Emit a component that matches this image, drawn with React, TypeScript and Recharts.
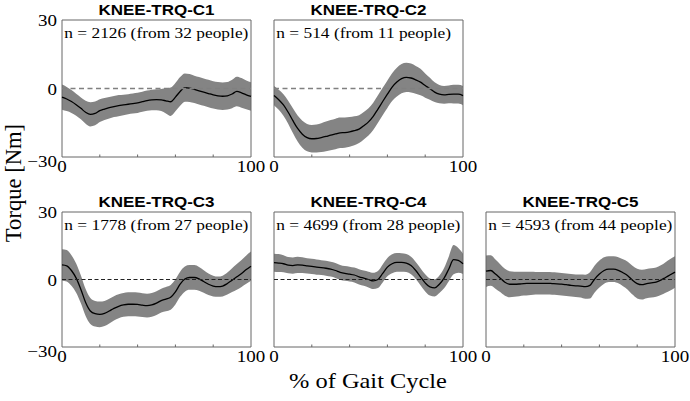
import React from 'react';
import { ComposedChart, Area, Line, XAxis, YAxis, ReferenceLine, ReferenceArea } from 'recharts';

const gaitPct = [0, 2.5, 5, 7.5, 10, 12.5, 15, 17.5, 20, 22.5, 25, 27.5, 30, 32.5, 35, 37.5, 40, 42.5, 45, 47.5, 50, 52.5, 55, 57.5, 60, 62.5, 65, 67.5, 70, 72.5, 75, 77.5, 80, 82.5, 85, 87.5, 90, 92.5, 95, 97.5, 100];

const c1Mean = [-3.8, -4.6, -5.7, -7.1, -8.7, -10.4, -11.3, -10.9, -9.7, -9.0, -8.4, -7.9, -7.5, -7.2, -6.9, -6.6, -6.3, -5.8, -5.3, -5.0, -4.9, -5.0, -5.4, -5.8, -3.8, -1.3, 0.4, 0.2, -0.4, -1.0, -1.6, -2.2, -2.8, -3.2, -3.4, -3.2, -2.4, -1.3, -1.9, -2.8, -3.5];
const c1Sd = [5.5, 5.3, 5.0, 4.8, 4.8, 5.0, 5.3, 5.2, 5.0, 4.8, 4.7, 4.6, 4.6, 4.5, 4.4, 4.4, 4.4, 4.4, 4.4, 4.5, 4.6, 4.8, 5.5, 6.2, 6.2, 6.3, 6.2, 6.1, 6.0, 6.0, 6.0, 6.0, 6.0, 6.0, 6.0, 6.0, 6.2, 6.5, 6.5, 6.3, 6.2];

const c2Mean = [-3.1, -4.9, -7.2, -10.4, -14.1, -17.5, -20, -21.5, -22, -21.9, -21.5, -21, -20.4, -19.9, -19.4, -19.3, -19, -18.5, -17.8, -16.3, -14.6, -12.2, -9, -5.7, -2.5, 0.6, 2.8, 4.3, 4.9, 4.6, 3.8, 2.8, 1.3, -0.1, -1.6, -2.5, -2.8, -2.6, -2.5, -2.5, -3.1];
const c2Sd = [4.2, 4.4, 4.7, 5.0, 5.4, 5.7, 5.9, 6.0, 6.0, 6.1, 6.3, 6.5, 6.6, 6.7, 6.7, 6.6, 6.5, 6.3, 6.1, 6.0, 6.0, 6.0, 6.0, 6.0, 6.0, 6.1, 6.3, 6.4, 6.4, 6.3, 6.1, 5.8, 5.3, 4.8, 4.3, 4.0, 3.9, 3.9, 4.1, 4.1, 4.2];

const c3Mean = [6.5, 6.1, 4.0, 0.6, -4.4, -10.2, -14, -15.2, -15.5, -15.1, -14, -12.8, -11.9, -11.3, -11, -11, -11.1, -11.4, -11.6, -11.3, -10.5, -9.4, -8.7, -7.9, -5.5, -2.1, 0.2, 0.9, 0.9, 0.3, -0.9, -2.1, -2.9, -3.2, -2.9, -1.8, -0.3, 1.2, 2.7, 4.4, 5.9];
const c3Sd = [7.0, 7.0, 6.8, 6.5, 6.2, 6.0, 5.8, 5.7, 5.7, 5.6, 5.5, 5.4, 5.3, 5.3, 5.3, 5.3, 5.3, 5.3, 5.3, 5.3, 5.3, 5.3, 5.4, 5.5, 5.6, 5.6, 5.6, 5.5, 5.5, 5.3, 5.0, 4.8, 4.6, 4.5, 4.6, 4.9, 5.3, 5.7, 6.0, 6.3, 6.5];

const c4Mean = [7.5, 7.3, 7.0, 6.4, 6.2, 6.5, 6.4, 6.1, 5.8, 5.5, 5.3, 5.0, 4.6, 4.0, 3.2, 2.7, 2.4, 2.0, 1.2, 0.6, 0, -0.6, 0, 2.7, 5.5, 7.0, 7.6, 7.6, 7.3, 6.2, 4.0, 1.2, -1.5, -3.3, -3.7, -2.1, 0.6, 4.7, 8.8, 8.5, 7.0];
const c4Sd = [4.0, 4.0, 3.8, 3.6, 3.6, 3.6, 3.5, 3.4, 3.4, 3.4, 3.3, 3.3, 3.3, 3.3, 3.3, 3.3, 3.3, 3.3, 3.4, 3.4, 3.5, 3.6, 3.8, 4.0, 4.1, 4.2, 4.2, 4.1, 4.0, 3.9, 3.8, 3.8, 3.8, 3.8, 3.8, 3.9, 4.5, 5.5, 6.5, 5.5, 4.5];

const c5Mean = [3.7, 4.0, 2.4, 0.6, -1.2, -2.1, -2.1, -2.0, -1.8, -1.75, -1.7, -1.7, -1.7, -1.7, -1.8, -1.9, -2.1, -2.3, -2.6, -2.8, -2.9, -3.2, -2.6, 0.2, 2.4, 4.0, 4.6, 4.6, 4.1, 3.0, 1.7, -0.3, -1.8, -2.3, -1.8, -1.5, -1.2, -0.3, 0.9, 2.1, 3.3];
const c5Sd = [7.0, 6.8, 6.5, 6.2, 6.0, 5.8, 5.6, 5.4, 5.3, 5.2, 5.1, 5.0, 5.0, 5.0, 5.0, 5.0, 5.0, 5.0, 5.0, 5.0, 5.1, 5.3, 5.8, 6.0, 6.0, 5.9, 5.7, 5.7, 5.8, 6.0, 6.2, 6.4, 6.6, 6.6, 6.5, 6.5, 6.5, 6.6, 6.8, 7.0, 7.0];

const panelTitles = ['KNEE-TRQ-C1', 'KNEE-TRQ-C2', 'KNEE-TRQ-C3', 'KNEE-TRQ-C4', 'KNEE-TRQ-C5'];
const panelNotes = [
  'n = 2126 (from 32 people)',
  'n = 514 (from 11 people)',
  'n = 1778 (from 27 people)',
  'n = 4699 (from 28 people)',
  'n = 4593 (from 44 people)',
];
const yTicks = [-30, 0, 30];
const xTicks = [0, 20, 40, 60, 80, 100];
const yLabel = 'Torque [Nm]';
const xLabel = '% of Gait Cycle';

const means = [c1Mean, c2Mean, c3Mean, c4Mean, c5Mean];
const sds = [c1Sd, c2Sd, c3Sd, c4Sd, c5Sd];

// layout (plot-area rectangles in page pixels)
const layout = [
  { left: 62, top: 20, w: 189, h: 137, showY: true, dash: '5 3.5', dashColor: '#808080', dashW: 1.3 },
  { left: 274, top: 20, w: 189, h: 137, showY: false, dash: '5 3.5', dashColor: '#808080', dashW: 1.3 },
  { left: 62, top: 212, w: 189, h: 135, showY: true, dash: '4 2.5', dashColor: '#222', dashW: 1 },
  { left: 274, top: 212, w: 189, h: 135, showY: false, dash: '4 2.5', dashColor: '#222', dashW: 1 },
  { left: 486, top: 212, w: 189, h: 135, showY: false, dash: '4 2.5', dashColor: '#222', dashW: 1 },
];

const SERIF = '"Liberation Serif", "Times New Roman", serif';
const SANS = '"Liberation Sans", Arial, sans-serif';
const VS = 0.88; // vertical squash of the reference text

const Squashed = ({ x, y, children, ...rest }: any) => (
  <g transform={`translate(${x},${y}) scale(1,${VS})`}>
    <text x={0} y={0} {...rest}>{children}</text>
  </g>
);

const XTick = (props: any) => {
  const { x, y, payload } = props;
  const v = payload.value;
  if (v === 0 || v === 100) {
    return (
      <Squashed x={x} y={y + 14.8} textAnchor="middle" fontFamily={SERIF} fontSize={19} fill="#000">
        {String(v)}
      </Squashed>
    );
  }
  return <line x1={x} x2={x} y1={y} y2={y - 2.5} stroke="#666" strokeWidth={1} />;
};

const YTick = (props: any) => {
  const { x, y, payload } = props;
  const v = payload.value;
  const label = v < 0 ? `\u2212${-v}` : `${v}`;
  const off = v === -30 ? 9.5 : 6.2;
  return (
    <Squashed x={x} y={y + off} textAnchor="end" fontFamily={SERIF} fontSize={19} fill="#000">
      {label}
    </Squashed>
  );
};

const ML = 50; // y axis width
const MT = 20;
const MR = 20;
const XH = 30;

function Panel({ idx }: { idx: number }) {
  const L = layout[idx];
  const rows = gaitPct.map((x, i) => ({
    x,
    mean: means[idx][i],
    band: [means[idx][i] - sds[idx][i], means[idx][i] + sds[idx][i]],
  }));
  const W = L.w + ML + MR;
  const H = L.h + MT + XH;
  return (
    <div style={{ position: 'absolute', left: L.left - ML, top: L.top - MT, width: W, height: H }}>
      <ComposedChart width={W} height={H} data={rows} margin={{ top: MT, right: MR, left: 0, bottom: 0 }}>
        <XAxis
          dataKey="x"
          type="number"
          domain={[0, 100]}
          ticks={xTicks}
          interval={0}
          axisLine={false}
          tickLine={false}
          tickSize={0}
          tickMargin={0}
          height={XH}
          tick={<XTick />}
        />
        <YAxis
          type="number"
          domain={[-30, 30]}
          ticks={yTicks}
          interval={0}
          axisLine={false}
          tickLine={false}
          tickSize={0}
          tickMargin={5}
          width={ML}
          tick={L.showY ? <YTick /> : false}
        />
        <Area
          dataKey="band"
          type="monotone"
          stroke="none"
          fill="#848484"
          fillOpacity={1}
          isAnimationActive={false}
          dot={false}
          activeDot={false}
        />
        <Line
          dataKey="mean"
          type="monotone"
          stroke="#000"
          strokeWidth={1.3}
          dot={false}
          activeDot={false}
          isAnimationActive={false}
        />
        <ReferenceLine y={0} stroke={L.dashColor} strokeWidth={L.dashW} strokeDasharray={L.dash} />
        <ReferenceArea x1={0} x2={100} y1={-30} y2={30} fill="none" fillOpacity={0} stroke="#666" strokeWidth={1} />
      </ComposedChart>
    </div>
  );
}

export default function App() {
  return (
    <div
      style={{
        position: 'absolute',
        left: 0,
        top: 0,
        width: 690,
        height: 401,
        background: '#fff',
        overflow: 'hidden',
      }}
    >
      {layout.map((_, i) => (
        <Panel key={i} idx={i} />
      ))}
      <svg width={690} height={401} style={{ position: 'absolute', left: 0, top: 0, pointerEvents: 'none' }}>
        {layout.map((L, i) => (
          <g key={i}>
            <Squashed
              x={L.left + L.w / 2}
              y={L.top - 5}
              textAnchor="middle"
              fontFamily={SANS}
              fontWeight="bold"
              fontSize={17}
              fill="#000"
            >
              {panelTitles[i]}
            </Squashed>
            <Squashed x={L.left + 2.3} y={L.top + 18.3} fontFamily={SERIF} fontSize={17.4} fill="#000">
              {panelNotes[i]}
            </Squashed>
          </g>
        ))}
        <g transform="translate(21,183) rotate(-90)">
          <text x={0} y={0} textAnchor="middle" fontFamily={SERIF} fontSize={22.6} fill="#000">
            {yLabel}
          </text>
        </g>
        <Squashed x={368} y={388} textAnchor="middle" fontFamily={SERIF} fontSize={24.4} fill="#000">
          {xLabel}
        </Squashed>
      </svg>
    </div>
  );
}
